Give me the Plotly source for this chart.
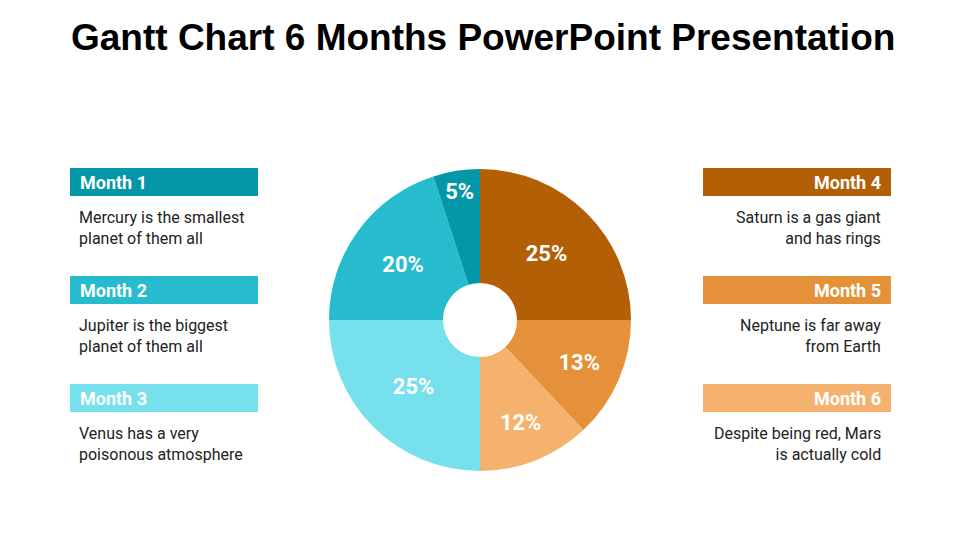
import plotly.graph_objects as go

title = "Gantt Chart 6 Months PowerPoint Presentation"
months = ["Month 1", "Month 2", "Month 3", "Month 4", "Month 5", "Month 6"]
shares = [5, 20, 25, 25, 13, 12]          # percent per month
descriptions = [
    "Mercury is the smallest<br>planet of them all",
    "Jupiter is the biggest<br>planet of them all",
    "Venus has a very<br>poisonous atmosphere",
    "Saturn is a gas giant<br>and has rings",
    "Neptune is far away<br>from Earth",
    "Despite being red, Mars<br>is actually cold",
]
colors = ["#0497A7", "#27BCCD", "#76E0EC", "#B35F06", "#E5913A", "#F4B26E"]

W, H = 960, 540

# pie order clockwise from 12 o'clock: Month4, Month5, Month6, Month3, Month2, Month1
order = [3, 4, 5, 2, 1, 0]
pie_labels = [months[i] for i in order]
pie_vals = [shares[i] for i in order]
pie_cols = [colors[i] for i in order]

fig = go.Figure()
cx, cy, r = 480, 320, 151
fig.add_trace(go.Pie(
    labels=pie_labels, values=pie_vals, sort=False, direction="clockwise", rotation=0,
    hole=0.245,
    marker=dict(colors=pie_cols, line=dict(width=0)),
    texttemplate="%{value}%", textposition="inside", insidetextorientation="horizontal",
    textfont=dict(family="Roboto", size=22, color="white", weight="bold"),
    domain=dict(x=[(cx - r) / W, (cx + r) / W], y=[1 - (cy + r) / H, 1 - (cy - r) / H]),
    showlegend=False, hoverinfo="skip",
))

shapes = []
annotations = []
box_tops = [168, 276, 384]
for i, m in enumerate(months):
    left = i < 3
    top = box_tops[i % 3]
    x0, x1 = (70, 258) if left else (703, 891)
    shapes.append(dict(type="rect", xref="paper", yref="paper",
                       x0=x0 / W, x1=x1 / W, y0=1 - (top + 28) / H, y1=1 - top / H,
                       fillcolor=colors[i], line=dict(width=0), layer="below"))
    annotations.append(dict(
        text="<b>" + m + "</b>", xref="paper", yref="paper",
        x=(78 if left else 883) / W, y=1 - (top + 14) / H,
        xanchor="left" if left else "right", yanchor="middle", showarrow=False,
        font=dict(family="Roboto", size=18, color="white")))
    annotations.append(dict(
        text=descriptions[i], xref="paper", yref="paper",
        x=(77 if left else 883) / W, y=1 - (top + 60) / H,
        xanchor="left" if left else "right", yanchor="middle", showarrow=False,
        align="left" if left else "right",
        font=dict(family="Roboto", size=16, color="#222222")))

annotations.append(dict(
    text="<b>" + title + "</b>", xref="paper", yref="paper", x=483 / W, y=1 - 37 / H,
    xanchor="center", yanchor="middle", showarrow=False,
    font=dict(family="Liberation Sans, Arial", size=37, color="black")))

fig.update_layout(width=W, height=H, margin=dict(l=0, r=0, t=0, b=0),
                  paper_bgcolor="white", plot_bgcolor="white",
                  shapes=shapes, annotations=annotations)
fig.write_html("out.html", config={"displayModeBar": False},
               post_script="document.body.style.margin='0px';")
